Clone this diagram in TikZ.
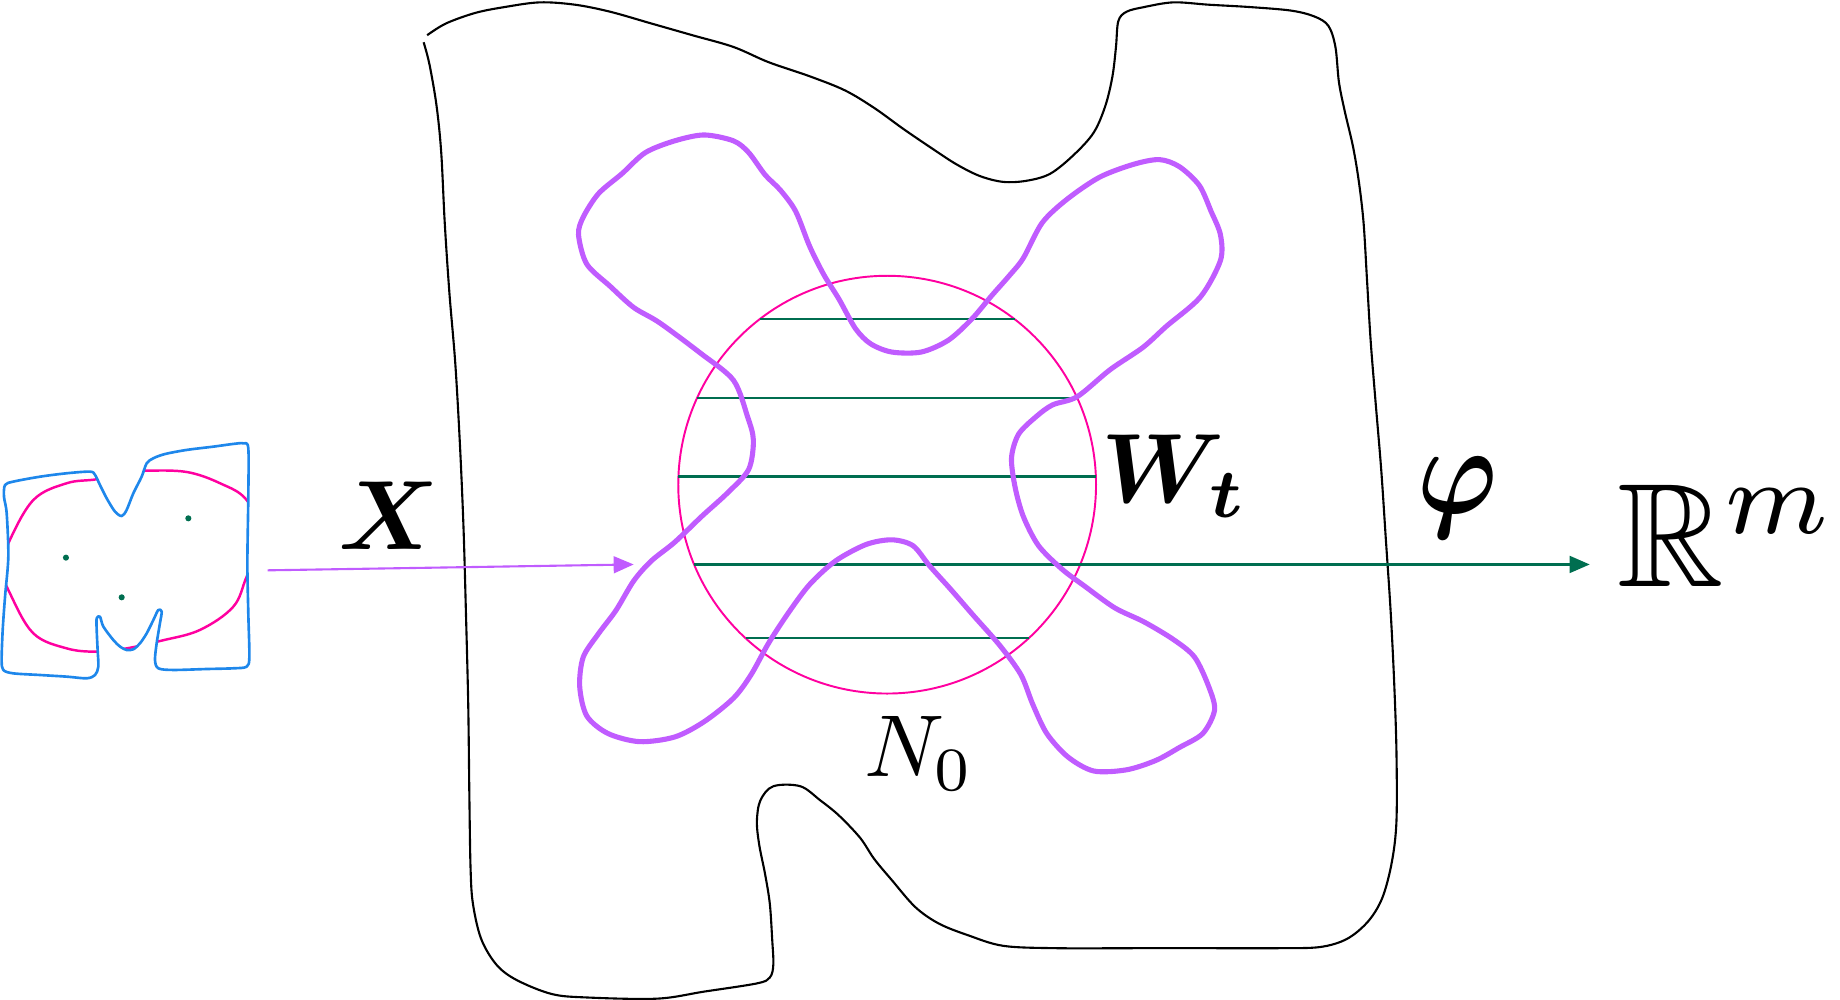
\documentclass[tikz,border=0pt]{standalone}
\usepackage{amsmath,amssymb,bm}
\usetikzlibrary{arrows.meta}

\definecolor{violetline}{RGB}{192,92,255}
\definecolor{pinkline}{RGB}{255,0,160}
\definecolor{tealline}{RGB}{0,110,80}
\definecolor{blueline}{RGB}{30,135,235}

\newcommand\smallset{plot[smooth cycle, tension=0.5] coordinates {(4.3,413.3) (11.4,410.4) (34.1,406.2) (56.8,403.3) (76.7,401.9) (81,404.7) (85.2,413.3) (90.9,424.6) (98,436) (103.7,439.7) (107.9,434.6) (113.6,420.4) (120.7,406.2) (125,394.8) (130.7,390.5) (140.6,386.9) (159.1,383.4) (181.8,380.6) (198.8,378.3) (207.4,377.8) (211.6,382) (211.6,423.2) (210.8,480) (211.6,522.6) (212.5,559.6) (210.2,568.1) (198.8,569.5) (176.1,570.1) (147.7,570.9) (134.9,569.5) (132.1,562.4) (133.5,548.2) (136.3,531.1) (137.8,521.2) (134.9,519.8) (130.7,528.3) (125,539.7) (119.3,548.2) (113.6,553.3) (107.9,553.9) (102.3,551) (96.6,545.4) (88.1,534) (85.2,525.5) (82.4,526.9) (82.4,536.8) (83.2,553.9) (83.8,568.1) (81,575.2) (73.9,578) (56.8,576.6) (34.1,575.2) (11.4,573.8) (2.8,570.9) (1.4,562.4) (2.3,536.8) (4.3,508.4) (7.1,474.3) (5.7,437.4) (3.4,423.2)}}

\begin{document}
\begin{tikzpicture}[x=0.11735mm, y=-0.11735mm,
  outline/.style={draw=black, line width=0.6pt, line join=round},
  lobes/.style={draw=violetline, line width=1.45pt, line join=round},
  chord/.style={draw=tealline, line width=0.6pt},
  lbl/.style={inner sep=0pt, anchor=base west},
  tip/.style={-{Triangle[length=5.7pt, width=4.8pt]}}]

  \useasboundingbox (0,0) rectangle (1568,852);

  % the big region
  \draw[outline] plot[smooth, tension=0.55] coordinates {(364,30) (380,20) (405,11) (430,6) (460,2) (490,4) (520,10) (555,20) (590,30) (625,40) (655,53) (690,65) (720,77) (745,92) (770,110) (795,127) (815,140) (835,150) (855,155) (875,154) (895,148) (915,132) (932,113) (942,90) (948,65) (951,40) (953,18) (960,10) (975,6) (1000,2) (1030,4) (1065,6) (1100,9) (1120,14) (1132,22) (1138,40) (1141,70) (1146,95) (1153,125) (1158,155) (1162,190) (1165,240) (1168,290) (1172,340) (1177,400) (1181,460) (1185,520) (1188,580) (1190,640) (1190,700) (1186,735) (1178,765) (1166,785) (1148,800) (1125,807) (1090,808) (1030,808) (970,808) (900,808) (855,806) (825,797) (800,787) (780,773) (760,750) (745,732) (733,714) (715,695) (699,682) (682,670) (659,670) (648,682) (645,700) (647,720) (652,745) (656,770) (658,800) (659,822) (656,833) (645,838) (600,845) (560,851) (500,850) (470,847) (440,835) (423,822) (410,800) (403,770) (401,740) (400,680) (399,600) (397,520) (395,450) (392,380) (388,310) (383,250) (379,190) (376,130) (372,90) (366,55) (361,36)};

  % the ball and its slices
  \coordinate (cc) at (756,413);
  \draw[pinkline, line width=0.55pt] (cc) circle[radius=178];
  \foreach \dy in {-141,-74,-7,68,131}
    \draw[chord] ([shift={({-100*sqrt(3.1684-(\dy/100)*(\dy/100))},\dy)}]cc) -- ([shift={({100*sqrt(3.1684-(\dy/100)*(\dy/100))},\dy)}]cc);

  \draw[lobes] plot[smooth cycle, tension=0.5] coordinates {(600,115) (625,120) (638,130) (652,149) (665,162) (678,180) (690,210) (702,234) (715,255) (729,280) (742,293) (760,300) (785,300) (808,290) (828,272) (845,252) (860,235) (872,220) (888,190) (909,170) (937,151) (966,140) (988,136) (1005,142) (1022,158) (1032,180) (1040,200) (1040,222) (1023,253) (994,278) (974,296) (946,315) (918,338) (897,345) (883,355) (868,370) (862,390) (865,415) (872,440) (885,465) (905,485) (925,500) (950,518) (975,530) (1000,545) (1018,560) (1030,585) (1035,605) (1025,625) (1005,637) (985,648) (960,656) (932,657) (910,645) (892,625) (880,600) (870,575) (852,550) (830,525) (810,502) (792,482) (778,465) (760,460) (738,464) (712,478) (690,498) (672,522) (655,548) (640,575) (625,595) (600,615) (575,628) (545,632) (518,625) (500,610) (494,585) (497,560) (510,540) (525,520) (540,495) (555,478) (575,462) (598,440) (620,420) (638,400) (642,375) (637,355) (625,324) (597,301) (562,275) (540,262) (520,244) (500,225) (493,200) (497,185) (510,165) (530,148) (550,130) (575,120)};

  % the small set
  \begin{scope}
    \clip \smallset;
    \draw[pinkline, line width=0.7pt] plot[smooth cycle, tension=0.6] coordinates {(125,401.1) (159.1,402.2) (187.5,411.8) (210.2,426.1) (224.4,458.7) (210.2,491.4) (198.8,517) (170.4,536.8) (137.8,545.9) (107.9,552.5) (82.4,555.3) (56.8,552.5) (28.4,539.7) (8.5,505.6) (1.4,484.3) (7.1,463) (28.4,426.1) (56.8,411.8) (82.4,408.4) (107.9,402.8)};
  \end{scope}
  \draw[blueline, line width=0.75pt, line join=round] \smallset;
  \foreach \x/\y in {56.2/475.2, 160.5/441.7, 103.7/509}
    \fill[tealline] (\x,\y) circle[radius=2.6];

  % labels
  \node[lbl, scale=2.8] (X) at (287,468) {$\bm{X}$};
  \node[lbl, scale=2.8] (Wt) at (937,428) {$\bm{W_t}$};
  \node[lbl, scale=2.5] (N0) at (735,662) {$N_0$};
  \node[lbl, scale=3.6, xscale=0.85] (phi) at (1206,438) {$\bm{\varphi}$};
  \node[lbl, scale=4.2] (Rm) at (1376,500) {$\mathbb{R}^m$};

  % the maps
  \coordinate (xfrom) at (228,486);
  \coordinate (xto) at (540,481);
  \coordinate (phifrom) at ([shift={(164.5,68)}]cc);
  \draw[violetline, line width=0.6pt, tip] (xfrom) -- (xto);
  \draw[tealline, line width=0.6pt, tip, shorten >=2.5mm] (phifrom) -- (phifrom -| Rm.west);
\end{tikzpicture}
\end{document}
